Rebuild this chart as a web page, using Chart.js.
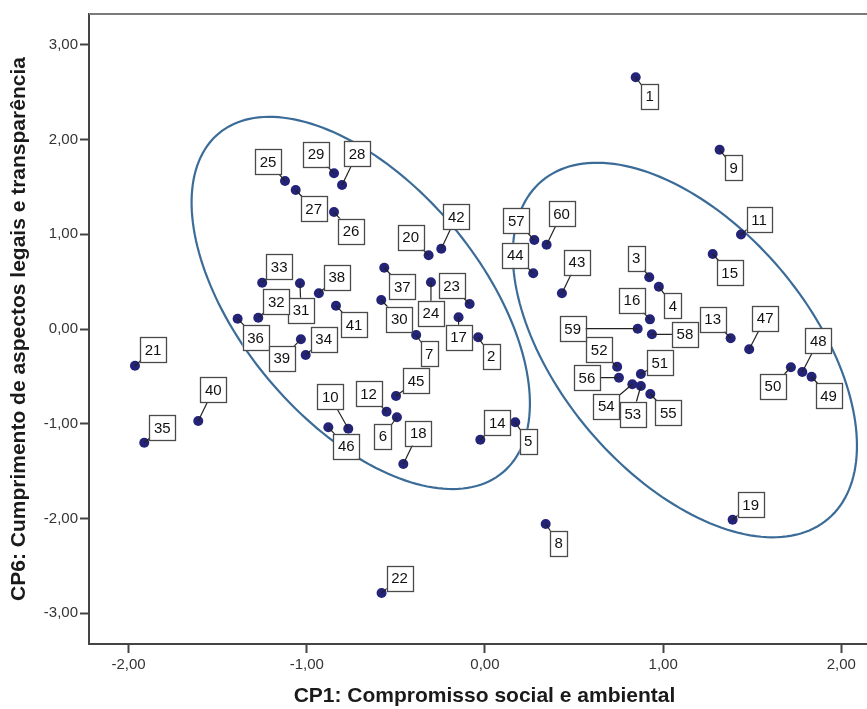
<!DOCTYPE html>
<html>
<head>
<meta charset="utf-8">
<script src="https://cdn.jsdelivr.net/npm/chart.js@4.4.1/dist/chart.umd.min.js"></script>
<style>
  html, body { margin: 0; padding: 0; background: #fff; overflow: hidden; }
  #wrap { position: relative; width: 885px; height: 709px; }
  #scoreChart { display: block; }
</style>
</head>
<body>
<div id="wrap"><canvas id="scoreChart" width="885" height="709"></canvas></div>
<script>
// Case numbers and component scores
const caseIds = [1, 2, 3, 4, 5, 6, 7, 8, 9, 10, 11, 12, 13, 14, 15, 16, 17, 18, 19, 20,
                 21, 22, 23, 24, 25, 26, 27, 28, 29, 30, 31, 32, 33, 34, 35, 36, 37, 38, 39, 40,
                 41, 42, 43, 44, 45, 46, 47, 48, 49, 50, 51, 52, 53, 54, 55, 56, 57, 58, 59, 60];
const cp1 = [0.846, -0.038, 0.922, 0.976, 0.170, -0.494, -0.386, 0.341, 1.317, -0.767,
             1.437, -0.552, 1.379, -0.026, 1.278, 0.926, -0.148, -0.458, 1.390, -0.316,
             -1.964, -0.580, -0.086, -0.303, -1.122, -0.847, -1.062, -0.802, -0.847, -0.582,
             -1.038, -1.272, -1.250, -1.006, -1.912, -1.388, -0.565, -0.932, -1.033, -1.609,
             -0.836, -0.245, 0.432, 0.271, -0.499, -0.879, 1.483, 1.781, 1.833, 1.717,
             0.875, 0.742, 0.875, 0.827, 0.928, 0.752, 0.277, 0.937, 0.857, 0.346];
const cp6 = [2.658, -0.088, 0.546, 0.447, -0.985, -0.932, -0.063, -2.059, 1.893, -1.053,
             0.998, -0.873, -0.098, -1.169, 0.792, 0.102, 0.124, -1.426, -2.014, 0.778,
             -0.388, -2.788, 0.264, 0.493, 1.563, 1.235, 1.468, 1.521, 1.644, 0.306,
             0.483, 0.119, 0.489, -0.275, -1.201, 0.109, 0.647, 0.377, -0.109, -0.971,
             0.246, 0.848, 0.377, 0.588, -0.707, -1.038, -0.214, -0.454, -0.504, -0.404,
             -0.475, -0.398, -0.602, -0.584, -0.686, -0.514, 0.940, -0.056, 0.003, 0.890];
const xTicks = [-2, -1, 0, 1, 2];
const yTicks = [-3, -2, -1, 0, 1, 2, 3];

// Cluster ellipses in data units: centre, half major axis vector, half minor axis vector
const clusterEllipses = [
    { cx: -0.697, cy: 0.275, ux: 0.7975, uy: -1.789, vx: -0.515, vy: -0.813 },
    { cx: 1.122, cy: -0.222, ux: 0.8036, uy: -1.7835, vx: -0.5355, vy: -0.8543 }
];

// where each case label box sits, in pixels from its point
const labelOffsets = [
    [14, 19], [13, 19], [-13, -19], [14, 19], [13, 19], [-14, 19], [13, 19], [13, 19], [14, 18], [-18, -32],
    [18, -15], [-18, -18], [-18, -19], [17, -17], [17, 19], [-18, -19], [0, 20], [15, -31], [18, -15], [-18, -18],
    [18, -16], [18, -15], [-18, -18], [0, 31], [-17, -19], [17, 19], [18, 19], [15, -31], [-18, -19], [18, 19],
    [1, 27], [18, -16], [17, -16], [18, -16], [18, -15], [18, 19], [18, 19], [18, -16], [-19, 19], [15, -31],
    [18, 19], [15, -32], [15, -31], [-18, -18], [20, -15], [18, 19], [16, -31], [16, -31], [17, 19], [-18, 19],
    [19, -11], [-18, -17], [-8, 28], [-26, 22], [18, 19], [-32, 0], [-18, -19], [33, 0], [-65, 0], [15, -31]
];

const fontFamily = 'Arial, "Liberation Sans", sans-serif';
const fmt = v => Number(v).toFixed(2).replace('.', ',');

const points = caseIds.map((id, i) => ({ x: cp1[i], y: cp6[i], id: id }));

const overlayPlugin = {
    id: 'overlay',
    beforeDatasetsDraw(chart) {
        const c = chart.ctx;
        const xs = chart.scales.x, ys = chart.scales.y;
        const area = chart.chartArea;
        // top frame line
        c.save();
        c.strokeStyle = '#7a7a7a';
        c.lineWidth = 2;
        c.beginPath();
        c.moveTo(area.left, area.top);
        c.lineTo(area.right, area.top);
        c.lineTo(area.right, area.bottom);
        c.stroke();
        // ellipses
        c.strokeStyle = '#3b6c98';
        c.lineWidth = 2.2;
        clusterEllipses.forEach(e => {
            c.beginPath();
            for (let k = 0; k <= 180; k++) {
                const t = k / 180 * Math.PI * 2;
                const dx = e.cx + e.ux * Math.cos(t) + e.vx * Math.sin(t);
                const dy = e.cy + e.uy * Math.cos(t) + e.vy * Math.sin(t);
                const px = xs.getPixelForValue(dx), py = ys.getPixelForValue(dy);
                if (k === 0) c.moveTo(px, py); else c.lineTo(px, py);
            }
            c.closePath();
            c.stroke();
        });
        c.restore();
    },
    afterDatasetsDraw(chart) {
        const c = chart.ctx;
        const meta = chart.getDatasetMeta(0);
        c.save();
        c.font = '15px "Liberation Sans Narrow", "Arial Narrow", ' + fontFamily;
        c.textAlign = 'center';
        c.textBaseline = 'middle';
        meta.data.forEach((el, i) => {
            const off = labelOffsets[i];
            const bx = el.x + off[0], by = el.y + off[1];
            // leader line
            c.strokeStyle = '#222';
            c.lineWidth = 1.2;
            c.beginPath();
            c.moveTo(el.x, el.y);
            c.lineTo(bx, by);
            c.stroke();
            // label box
            const txt = String(caseIds[i]);
            const w = Math.round(c.measureText(txt).width + 9);
            const h = 25;
            c.fillStyle = '#fff';
            c.fillRect(bx - w / 2, by - h / 2, w, h);
            c.strokeStyle = '#4a4a4a';
            c.lineWidth = 1.3;
            c.strokeRect(Math.round(bx - w / 2) + 0.5, Math.round(by - h / 2) + 0.5, w, h);
            c.fillStyle = '#111';
            c.fillText(txt, bx, by + 1);
        });
        c.restore();
    }
};

const ctx = document.getElementById('scoreChart').getContext('2d');
const scoreChart = new Chart(ctx, {
    type: 'scatter',
    data: {
        datasets: [{
            data: points,
            pointRadius: 5,
            pointHoverRadius: 5,
            pointBackgroundColor: '#232378',
            pointBorderColor: '#232378',
            pointBorderWidth: 0
        }]
    },
    options: {
        responsive: false,
        animation: false,
        events: [],
        layout: { padding: { top: 14, left: 0, right: 0, bottom: 0 } },
        plugins: {
            legend: { display: false },
            tooltip: { enabled: false }
        },
        scales: {
            x: {
                type: 'linear',
                min: -2.222,
                max: 2.217,
                afterBuildTicks: s => { s.ticks = xTicks.map(v => ({ value: v })); },
                afterFit: s => { s.height = 65; },
                ticks: {
                    callback: v => fmt(v),
                    font: { size: 15, family: fontFamily },
                    color: '#333',
                    padding: 3,
                    maxRotation: 0
                },
                grid: { drawOnChartArea: false, tickLength: 9, color: '#444', tickWidth: 2 },
                border: { color: '#444', width: 2 },
                title: {
                    display: true,
                    text: 'CP1: Compromisso social e ambiental',
                    font: { size: 21, weight: 'bold', family: fontFamily },
                    color: '#1a1a1a',
                    padding: { top: 0, bottom: 0 }
                }
            },
            y: {
                type: 'linear',
                min: -3.326,
                max: 3.326,
                afterBuildTicks: s => { s.ticks = yTicks.map(v => ({ value: v })); },
                afterFit: s => { s.width = 89; },
                ticks: {
                    callback: v => fmt(v),
                    font: { size: 15, family: fontFamily },
                    color: '#333',
                    padding: 2
                },
                grid: { drawOnChartArea: false, tickLength: 9, color: '#444', tickWidth: 2 },
                border: { color: '#444', width: 2 },
                title: {
                    display: true,
                    text: 'CP6: Cumprimento de aspectos legais e transparência',
                    font: { size: 21, weight: 'bold', family: fontFamily },
                    color: '#1a1a1a',
                    padding: { top: 7, bottom: 0 }
                }
            }
        }
    },
    plugins: [overlayPlugin]
});
</script>
</body>
</html>
